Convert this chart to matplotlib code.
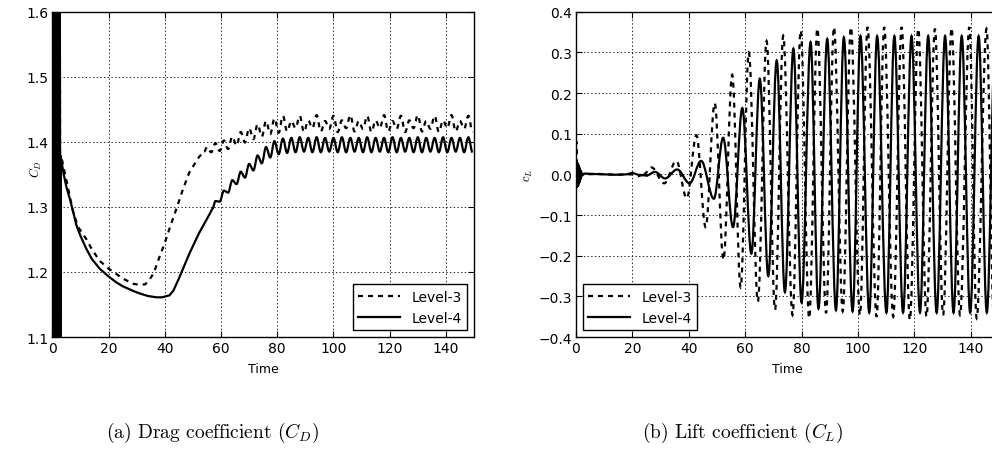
import numpy as np
import matplotlib

matplotlib.use("Agg")
import matplotlib.pyplot as plt
from matplotlib.path import Path
from matplotlib.patches import PathPatch

plt.rcParams.update({
    "font.family": "DejaVu Sans",
    "mathtext.fontset": "cm",
    "lines.scale_dashes": False,
    "axes.linewidth": 1.0,
})

# ---- drag coefficient (left panel) ----
# start-up transient (dense oscillation right after impulsive start)
cd_tr_t = [0.0, 0.2, 0.4, 0.6, 0.8, 1.0, 1.2, 1.4, 1.6, 1.8, 2.0, 2.2, 2.4, 2.6, 2.8]
cd_tr_v = [1.0, 1.7, 1.0, 1.7, 1.0, 1.7, 1.0, 1.7, 1.0, 1.7, 1.0, 1.7, 1.0, 1.7, 1.05]

# Level-4, smooth part
cd4_t = [3.0, 4.0, 5.0, 6.2, 7.5, 8.5, 10, 12, 14, 16.8, 20, 22.7, 25, 28.6, 31, 34, 37, 39,
         41.6, 43, 45, 48.7, 52.2, 55.8, 57]
cd4_v = [1.375, 1.35, 1.33, 1.312, 1.29, 1.272, 1.255, 1.236, 1.22, 1.205, 1.193, 1.184, 1.178,
         1.171, 1.167, 1.163, 1.161, 1.161, 1.164, 1.171, 1.19, 1.228, 1.26, 1.288, 1.298]
# Level-4, vortex shedding: successive peak / trough values, half period 1.5
cd4_osc_t = np.arange(58.0, 150.0, 1.5)
cd4_osc_v = [1.309, 1.308, 1.325, 1.322, 1.341, 1.335, 1.354, 1.345, 1.366, 1.356,
             1.379, 1.367, 1.392, 1.376, 1.401, 1.381, 1.405, 1.383,
             1.406, 1.384, 1.407, 1.385, 1.406, 1.384, 1.407, 1.384, 1.406, 1.385,
             1.406, 1.384, 1.407, 1.384, 1.406, 1.385, 1.406, 1.384, 1.407, 1.384,
             1.406, 1.385, 1.406, 1.384, 1.407, 1.384, 1.406, 1.385, 1.406, 1.384,
             1.407, 1.384, 1.406, 1.385, 1.406, 1.384, 1.407, 1.384, 1.406, 1.385,
             1.406, 1.384, 1.407, 1.384]

# Level-3, smooth part
cd3_t = [3.0, 4.0, 5.0, 7.2, 9, 12.1, 14, 16.8, 20, 22.7, 25, 28.6, 31, 33, 34.5, 36, 38, 40,
         41.6, 44.5, 46.5, 48.7, 50, 52.2, 54]
cd3_v = [1.38, 1.36, 1.34, 1.295, 1.27, 1.25, 1.235, 1.217, 1.205, 1.197, 1.19, 1.182, 1.18,
         1.181, 1.188, 1.198, 1.222, 1.245, 1.266, 1.302, 1.328, 1.353, 1.362, 1.377, 1.385]
cd3_osc_t = np.arange(55.0, 150.0, 1.5)
cd3_osc_v = [1.392, 1.384, 1.398, 1.386, 1.402, 1.389, 1.408, 1.394, 1.415, 1.399,
             1.421, 1.404, 1.427, 1.408, 1.432, 1.412, 1.436, 1.414,
             1.440, 1.416, 1.432, 1.421, 1.440, 1.415, 1.433, 1.421, 1.441, 1.416,
             1.432, 1.420, 1.440, 1.415, 1.433, 1.421, 1.441, 1.416, 1.432, 1.420,
             1.440, 1.415, 1.433, 1.421, 1.441, 1.416, 1.432, 1.420, 1.440, 1.415,
             1.433, 1.421, 1.441, 1.416, 1.432, 1.420, 1.440, 1.415, 1.433, 1.421,
             1.441, 1.416, 1.432, 1.420, 1.440, 1.415]

# ---- lift coefficient (right panel) ----
# Level-4: start-up and near-zero part
cl4_t = [0.0, 0.2, 0.4, 0.6, 0.8, 1.0, 1.2, 1.4, 1.6, 1.8, 2.0, 3.0, 6, 10, 14, 18, 20, 22, 25]
cl4_v = [0.0, 0.03, -0.03, 0.028, -0.028, 0.022, -0.02, 0.015, -0.012, 0.008, -0.004, 0.002,
         0.001, 0.0, -0.001, 0.0, 0.004, -0.001, -0.003]
# Level-4: successive extrema of the shedding oscillation
cl4_ext_t = [28.0, 31.6, 35.9, 40.3, 44.4, 48.9, 52.2, 55.7, 59.0, 62.2, 65.2, 68.2, 71.2, 74.1,
             77.1, 80.0, 83.2, 86.0, 89.1, 92.2, 95.0, 98.1, 100.9, 104.0, 106.8, 110.1, 112.9,
             116.0, 119.0, 122.0, 124.9, 127.9, 130.9, 133.9, 136.8, 139.8, 142.8, 145.7, 148.7,
             151.6]
cl4_ext_v = [0.006, -0.01, 0.012, -0.022, 0.033, -0.06, 0.09, -0.13, 0.163, -0.195, 0.235, -0.25,
             0.28, -0.29, 0.309, -0.315, 0.325, -0.33, 0.333, -0.334, 0.337, -0.337, 0.34, -0.34,
             0.34, -0.34, 0.34, -0.34, 0.34, -0.34, 0.34, -0.34, 0.34, -0.34, 0.34, -0.34, 0.34,
             -0.34, 0.34, -0.34]

# Level-3
cl3_t = [0.0, 0.15, 0.3, 0.45, 0.6, 0.8, 1.0, 1.3, 1.6, 2.0, 3.0, 8, 14, 20, 22, 24]
cl3_v = [0.0, 0.08, -0.035, 0.03, -0.02, 0.015, -0.01, 0.006, -0.003, 0.002, 0.0, 0.001,
         -0.001, 0.0, -0.005, 0.0]
cl3_ext_t = [26.8, 31.3, 35.6, 39.3, 42.7, 46.0, 49.2, 52.3, 55.4, 58.4, 61.3, 64.5, 67.6, 70.6,
             73.5, 76.8, 79.7, 82.7, 85.6, 88.7, 91.5, 94.6, 97.5, 100.7, 103.4, 106.6, 109.3,
             112.5, 115.5, 118.4, 121.4, 124.3, 127.3, 130.2, 133.2, 136.2, 139.5, 142.1, 145.6,
             148.2, 151.2]
cl3_ext_v = [0.017, -0.022, 0.033, -0.059, 0.096, -0.13, 0.175, -0.21, 0.245, -0.278, 0.30, -0.313,
             0.328, -0.333, 0.341, -0.346, 0.354, -0.354, 0.359, -0.341, 0.362, -0.337, 0.362,
             -0.346, 0.362, -0.35, 0.362, -0.35, 0.362, -0.358, 0.358, -0.35, 0.358, -0.346, 0.36,
             -0.346, 0.362, -0.354, 0.358, -0.35, 0.36]

LW = 1.6
DASH = (3.6, 3.6)


def wave(ax, t, v, **kw):
    # curve through successive extrema, flat tangent at every extremum
    verts = [(t[0], v[0])]
    codes = [Path.MOVETO]
    for i in range(1, len(t)):
        h = 0.36 * (t[i] - t[i - 1])
        verts += [(t[i - 1] + h, v[i - 1]), (t[i] - h, v[i]), (t[i], v[i])]
        codes += [Path.CURVE4] * 3
    ax.add_patch(PathPatch(Path(verts, codes), fill=False, edgecolor="black", lw=LW, **kw))


fig = plt.figure(figsize=(9.92, 4.52), dpi=100)
ax1 = fig.add_axes([0.0529, 0.2522, 0.4249, 0.7197])
ax2 = fig.add_axes([0.5806, 0.2522, 0.4264, 0.7197])

# drag
ax1.plot(np.concatenate([cd_tr_t, cd3_t]), np.concatenate([cd_tr_v, cd3_v]),
         color="black", lw=LW, linestyle="--", dashes=DASH, label="Level-3")
ax1.plot(np.concatenate([cd_tr_t, cd4_t]), np.concatenate([cd_tr_v, cd4_v]),
         color="black", lw=LW, label="Level-4")
wave(ax1, np.concatenate([cd3_t[-1:], cd3_osc_t]), np.concatenate([cd3_v[-1:], cd3_osc_v]),
     linestyle=(0, DASH))
wave(ax1, np.concatenate([cd4_t[-1:], cd4_osc_t]), np.concatenate([cd4_v[-1:], cd4_osc_v]))
ax1.set_xlim(0, 150)
ax1.set_ylim(1.1, 1.6)
ax1.set_yticks([1.1, 1.2, 1.3, 1.4, 1.5, 1.6])
ax1.set_ylabel("$C_D$", fontsize=9)
ax1.yaxis.set_label_coords(-0.020, 0.52)
ax1.legend(loc="lower right", fontsize=10, fancybox=False, edgecolor="black",
           framealpha=1, handlelength=3.0, borderaxespad=0.5)

# lift
ax2.plot(cl3_t, cl3_v, color="black", lw=LW, linestyle="--", dashes=DASH, label="Level-3")
ax2.plot(cl4_t, cl4_v, color="black", lw=LW, label="Level-4")
wave(ax2, cl3_t[-1:] + cl3_ext_t, cl3_v[-1:] + cl3_ext_v, linestyle=(0, DASH))
wave(ax2, cl4_t[-1:] + cl4_ext_t, cl4_v[-1:] + cl4_ext_v)
ax2.set_xlim(0, 150)
ax2.set_ylim(-0.4, 0.4)
ax2.set_yticks(np.arange(-4, 5) / 10)
ax2.set_ylabel("$c_L$", fontsize=9)
ax2.yaxis.set_label_coords(-0.097, 0.50)
ax2.legend(loc="lower left", fontsize=10, fancybox=False, edgecolor="black",
           framealpha=1, handlelength=3.0, borderaxespad=0.5)

for ax in (ax1, ax2):
    ax.set_xticks([0, 20, 40, 60, 80, 100, 120, 140])
    ax.set_xlabel("Time", fontsize=9, labelpad=5)
    ax.grid(True, color="black", linestyle=":", linewidth=0.6)
    ax.tick_params(direction="in", top=True, right=True, labelsize=10, length=4, pad=3)

cap = dict(ha="center", va="center", fontsize=14, family="cmr10")
fig.text(213 / 992, 1 - 433 / 452, r"(a) Drag coefficient ($C_D$)", **cap)
fig.text(743 / 992, 1 - 433 / 452, r"(b) Lift coefficient ($C_L$)", **cap)

fig.savefig("out.png", dpi=100)
